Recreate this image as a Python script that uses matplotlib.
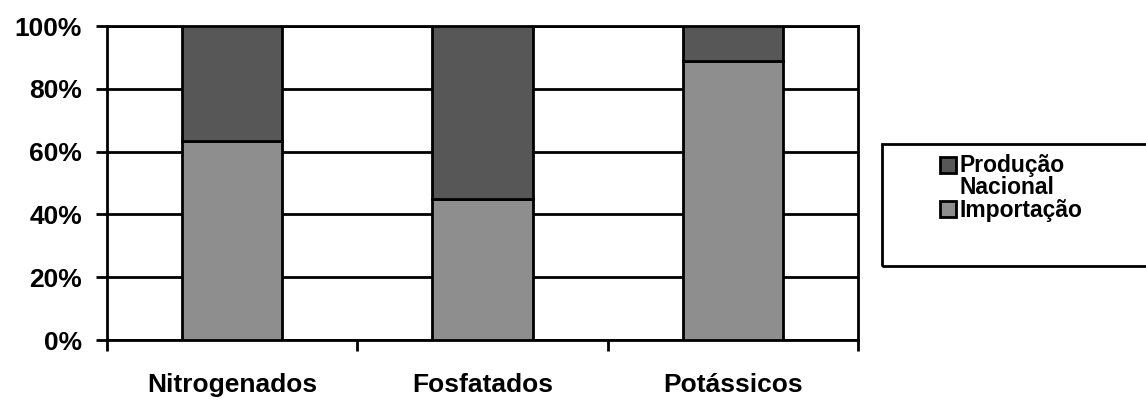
import matplotlib
matplotlib.use('Agg')
import matplotlib.pyplot as plt
from matplotlib.patches import Rectangle

categorias = ['Nitrogenados', 'Fosfatados', 'Potássicos']
importacao = [63.4, 44.9, 88.8]
producao = [36.6, 55.1, 11.2]
yticks = [0, 20, 40, 60, 80, 100]

plt.rcParams['font.family'] = ['Liberation Sans', 'DejaVu Sans']
plt.rcParams['font.weight'] = 'bold'

fig = plt.figure(figsize=(11.46, 4.01), dpi=100)
ax = fig.add_axes([0.0934, 0.152, 0.6553, 0.783])

x = list(range(len(categorias)))
b1 = ax.bar(x, importacao, width=0.4, color='#8e8e8e', edgecolor='black', linewidth=2, zorder=3, label='Importação')
b2 = ax.bar(x, producao, width=0.4, bottom=importacao, color='#575757', edgecolor='black', linewidth=2, zorder=3,
            label='Produção\nNacional')

ax.set_xlim(-0.5, 2.5)
ax.set_ylim(0, 100)
ax.set_yticks(yticks)
ax.set_yticklabels([f'{v}%' for v in yticks], fontsize=19, fontweight='bold')
ax.yaxis.grid(True, color='black', linewidth=2, zorder=0)
ax.set_axisbelow(True)

# ticks at category boundaries, labels at the centres
ax.set_xticks([-0.5, 0.5, 1.5, 2.5])
ax.set_xticklabels([])
ax.set_xticks(x, minor=True)
ax.set_xticklabels(categorias, minor=True, fontsize=19, fontweight='bold')
ax.tick_params(axis='x', which='minor', length=0, pad=24)
ax.tick_params(axis='both', which='major', length=8, width=2, direction='out')
ax.tick_params(axis='y', pad=10)

for s in ax.spines.values():
    s.set_linewidth(2)

# legend box
fig.patches.append(Rectangle((0.7696, 0.3367), 0.25, 0.304, transform=fig.transFigure,
                             fill=False, edgecolor='black', linewidth=2))
leg = fig.legend([b2, b1], ['Produção\nNacional', 'Importação'], loc='upper left',
                 bbox_to_anchor=(0.806, 0.655), frameon=False,
                 handlelength=0.7, handleheight=0.7, handletextpad=0.15, labelspacing=0.0,
                 borderpad=0.2, prop={'weight': 'bold', 'size': 16.5})
for t in leg.get_texts():
    t.set_linespacing(0.95)
# put the first square next to the first line of its label
h = leg.legend_handles[0]
h.set_y(h.get_y() + 9.5)

fig.savefig('out.png', dpi=100)
